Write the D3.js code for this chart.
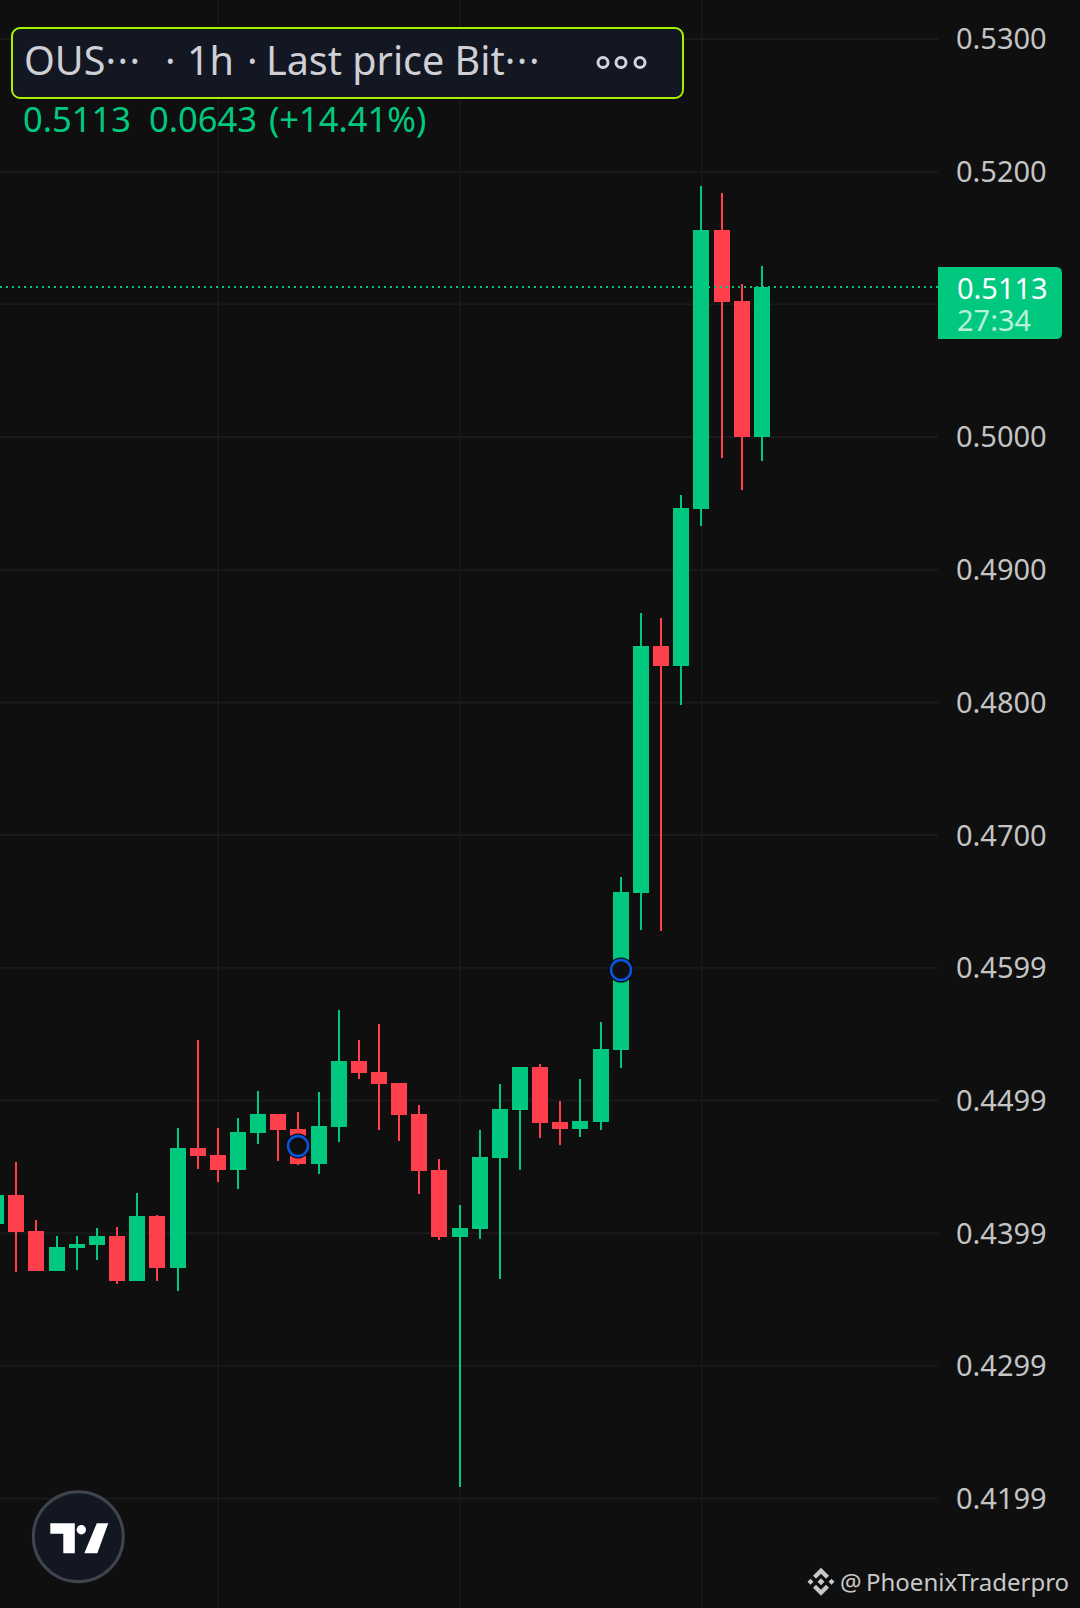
<!DOCTYPE html>
<html>

<head>
  <title>OUSDT 1h</title>
  <style>
    html, body { margin: 0; padding: 0; background: #0f0f0f; }
    svg { display: block; font-family: "Noto Sans", "Open Sans", sans-serif; }
  </style>
</head>

<body>
  <svg id="svg"></svg>

  <script src="https://d3js.org/d3.v7.min.js"></script>
  <script>
    const opens = [.44067, .44283, .44012, .43710, .43884, .43906, .43974, .43635, .44125, .43733,
      .44637, .44585, .44472, .44750, .44894, .44781, .44517, .44796, .45293, .45210,
      .45127, .44894, .44472, .43967, .44027, .44562, .44924, .45248, .44833, .44781,
      .44833, .45376, .46559, .48421, .48270, .49454, .51556, .51021, .50000];
    const highs = [.44283, .44532, .44095, .43974, .43974, .44034, .44042, .44298, .44132, .44788,
      .45451, .44788, .44864, .45067, .44894, .44909, .45059, .45678, .45451, .45572,
      .45127, .44962, .44555, .44208, .44773, .45120, .45248, .45271, .44992, .45158,
      .45587, .46680, .48670, .48632, .49559, .51888, .51835, .51149, .51285];
    const lows = [.44067, .43705, .43710, .43710, .43718, .43793, .43612, .43635, .43635, .43560,
      .44479, .44381, .44328, .44668, .44539, .44509, .44442, .44683, .45158, .44773,
      .44690, .44291, .43944, .42085, .43952, .43650, .44472, .44713, .44660, .44720,
      .44773, .45240, .46280, .46273, .47976, .49325, .49838, .49597, .49815];
    const closes = [.44283, .44007, .43710, .43891, .43914, .43974, .43635, .44125, .43733, .44637,
      .44577, .44472, .44758, .44894, .44773, .44517, .44803, .45293, .45203, .45120,
      .44886, .44464, .43967, .44034, .44570, .44931, .45248, .44826, .44781, .44841,
      .45384, .46567, .48421, .48270, .49461, .51556, .51014, .50000, .51127];

    const priceTicks = [.53, .52, .51, .50, .49, .48, .47, .46, .45, .44, .43, .42];
    const priceLabels = ["0.5300", "0.5200", "", "0.5000", "0.4900", "0.4800", "0.4700", "0.4599", "0.4499", "0.4399", "0.4299", "0.4199"];
    const timeTicks = [11, 23, 35];

    // blue event circles: candle index, price
    const markerBars = [15, 31];
    const markerPrices = [.44653, .45979];

    const lastPrice = .51127;

    const width = 1080, height = 1608;
    const up = "#00c97f", down = "#ff404c", gridColor = "#1a1a1a";
    const axisRight = 938;

    const svg = d3.select("#svg").attr("width", width).attr("height", height);
    svg.append("rect").attr("width", width).attr("height", height).attr("fill", "#0f0f0f");

    const x = d3.scaleLinear().domain([0, 38]).range([-3.8, 761.8]);
    const y = d3.scaleLinear().domain([.53, .42]).range([38.5, 1498]);
    const barLeft = i => Math.round(x(i) - 8);

    // grid comes from the axes' tick lines
    const xAxis = svg.append("g").attr("transform", `translate(0, ${height})`)
      .call(d3.axisBottom(x).tickValues(timeTicks).tickSize(-height).tickFormat(""));
    xAxis.select(".domain").remove();
    xAxis.selectAll("line").attr("stroke", gridColor).attr("stroke-width", 1.5);

    const yAxis = svg.append("g")
      .call(d3.axisRight(y).tickValues(priceTicks).tickSize(axisRight).tickPadding(18)
        .tickFormat((d, i) => priceLabels[i]));
    yAxis.select(".domain").remove();
    yAxis.selectAll("line").attr("stroke", gridColor).attr("stroke-width", 2);
    yAxis.selectAll("text").attr("fill", "#c4c4c4").attr("font-size", 29)
      .attr("font-family", '"Noto Sans"').attr("dy", "0.36em");

    // candles
    const bars = d3.range(opens.length).map(i => ({ i, o: opens[i], h: highs[i], l: lows[i], c: closes[i] }));
    const candles = svg.append("g").attr("shape-rendering", "crispEdges");
    candles.selectAll("line").data(bars).join("line")
      .attr("x1", d => barLeft(d.i) + 8).attr("x2", d => barLeft(d.i) + 8)
      .attr("y1", d => y(d.h)).attr("y2", d => y(d.l))
      .attr("stroke", d => d.c >= d.o ? up : down).attr("stroke-width", 2);
    candles.selectAll("rect").data(bars).join("rect")
      .attr("x", d => barLeft(d.i)).attr("width", 16)
      .attr("y", d => y(Math.max(d.o, d.c)))
      .attr("height", d => Math.abs(y(d.o) - y(d.c)))
      .attr("fill", d => d.c >= d.o ? up : down);

    // last price line
    svg.append("line").attr("x1", 0).attr("x2", axisRight)
      .attr("y1", y(lastPrice)).attr("y2", y(lastPrice))
      .attr("stroke", up).attr("stroke-width", 2).attr("stroke-dasharray", "2 4");

    // event markers
    const markers = svg.append("g");
    markerBars.forEach((b, i) => {
      markers.append("circle").attr("cx", barLeft(b) + 8).attr("cy", y(markerPrices[i])).attr("r", 12.5).attr("fill", "#0b0b0b");
      markers.append("circle").attr("cx", barLeft(b) + 8).attr("cy", y(markerPrices[i])).attr("r", 10)
        .attr("fill", "#0f0f0f").attr("stroke", "#0a55e0").attr("stroke-width", 2.5);
    });

    // price tag
    const tagTop = y(lastPrice) - 20, tagBottom = tagTop + 72;
    svg.append("path")
      .attr("d", `M${axisRight},${tagTop}H1056Q1062,${tagTop} 1062,${tagTop + 6}V${tagBottom - 6}Q1062,${tagBottom} 1056,${tagBottom}H${axisRight}Z`)
      .attr("fill", up);
    svg.append("text").attr("x", 957).attr("y", y(lastPrice) + 2).attr("dy", "0.35em")
      .attr("font-size", 29).attr("fill", "#ffffff").text("0.5113");
    svg.append("text").attr("x", 957).attr("y", y(lastPrice) + 34).attr("dy", "0.35em")
      .attr("font-size", 29).attr("fill", "#b8f0da").text("27:34");

    // header
    svg.append("rect").attr("x", 12).attr("y", 28).attr("width", 671).attr("height", 70).attr("rx", 8)
      .attr("fill", "#131722").attr("stroke", "#a6f000").attr("stroke-width", 2);
    const headerBits = [[24, "OUS", "\u00b7\u00b7\u00b7"], [165, "\u00b7", ""], [187, "1h", ""], [247, "\u00b7", ""], [266, "Last price Bit", "\u00b7\u00b7\u00b7"]];
    headerBits.forEach(([tx, s, dots]) => {
      const t = svg.append("text").attr("x", tx).attr("y", 75).attr("font-size", 39.5).attr("fill", "#cfd0d6").text(s);
      if (dots) t.append("tspan").attr("letter-spacing", 1.5).text(dots);
    });
    [603, 621, 640].forEach(cx => {
      svg.append("circle").attr("cx", cx).attr("cy", 62.5).attr("r", 5)
        .attr("fill", "none").attr("stroke", "#d1d4dc").attr("stroke-width", 3);
    });
    [[23, "0.5113"], [149, "0.0643"], [269, "(+14.41%)"]].forEach(([tx, s]) => {
      svg.append("text").attr("x", tx).attr("y", 132).attr("font-size", 34.5).attr("fill", up).text(s);
    });

    // tradingview badge
    const logo = svg.append("g").attr("transform", "translate(78.3, 1536.7)");
    logo.append("circle").attr("r", 45).attr("fill", "#131722").attr("stroke", "#40444f").attr("stroke-width", 3);
    logo.append("path").attr("fill", "#fff")
      .attr("d", "M-28,-13.5H-3.5V16.5H-15V-3H-28Z M18.5,-13.5H30L19,16.5H6Z");
    logo.append("circle").attr("cx", 3).attr("cy", -7).attr("r", 4.7).attr("fill", "#fff");

    // watermark
    const mark = svg.append("g").attr("transform", "translate(821, 1581.7)").attr("fill", "#c8c8c8");
    mark.append("path").attr("d",
      "M0,-14L8,-6L5,-3L0,-8L-5,-3L-8,-6Z M0,14L8,6L5,3L0,8L-5,3L-8,6Z M0,-3.5L3.5,0L0,3.5L-3.5,0Z M-10.5,-3L-7.5,0L-10.5,3L-13.5,0Z M10.5,-3L13.5,0L10.5,3L7.5,0Z");
    svg.append("text").attr("x", 840).attr("y", 1590.5).attr("font-size", 24).attr("fill", "#c8c8c8").text("@");
    svg.append("text").attr("x", 866).attr("y", 1590.5).attr("font-size", 24).attr("fill", "#c8c8c8").text("PhoenixTraderpro");
  </script>
</body>

</html>
